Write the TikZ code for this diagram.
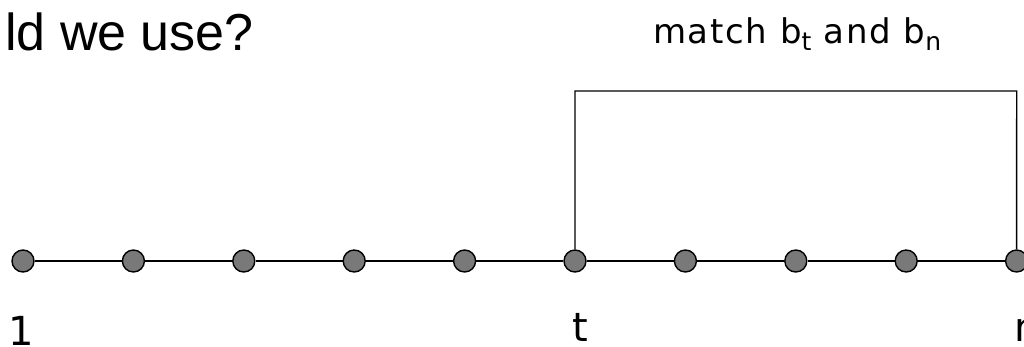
\documentclass[tikz,border=0pt]{standalone}
\usepackage{fontspec}
\setmainfont{Liberation Sans}
\newfontfamily\comicfont[LetterSpace=5]{DejaVu Sans}
\newfontfamily\labelfont{DejaVu Sans}
\newcommand{\subtxt}[1]{\raisebox{-7pt}{\fontsize{25}{25}\selectfont #1}}
\begin{document}
\begin{tikzpicture}[x=1pt,y=-1pt,
  dot/.style={circle,draw=black,fill=gray!95!black,line width=1.4pt,minimum size=22pt,inner sep=0pt},
  lbl/.style={font=\labelfont\fontsize{40}{40}\selectfont,anchor=base,inner sep=0pt},
  link/.style={line width=1.1pt},
  bracket/.style={line width=1.4pt}]
\useasboundingbox (0,0) rectangle (1024,346);
\foreach \i in {1,...,10} {
  \node[dot] (n\i) at ({23+110.4*(\i-1)},261) {};
}
\foreach \i [evaluate=\i as \j using int(\i+1)] in {1,...,9} {
  \draw[link] (n\i) -- (n\j);
}
\coordinate (bl) at (575,91);
\coordinate (br) at (1016.7,91);
\draw[bracket] (n6.north) -- (bl) -- (br) -- (n10.north);
\node[anchor=base west,inner sep=0pt,font=\fontsize{52}{52}\selectfont] (title) at (5,50) {ld we use?};
\node[anchor=base west,inner sep=0pt,font=\comicfont\fontsize{34}{34}\selectfont] (match) at (653,43) {match b\subtxt{t} and b\subtxt{n}};
\node[lbl] (l1) at (21,345) {1};
\node[lbl] (lt) at (580,341) {t};
\node[lbl,anchor=base west] (ln) at (1014,341) {n};
\end{tikzpicture}
\end{document}
